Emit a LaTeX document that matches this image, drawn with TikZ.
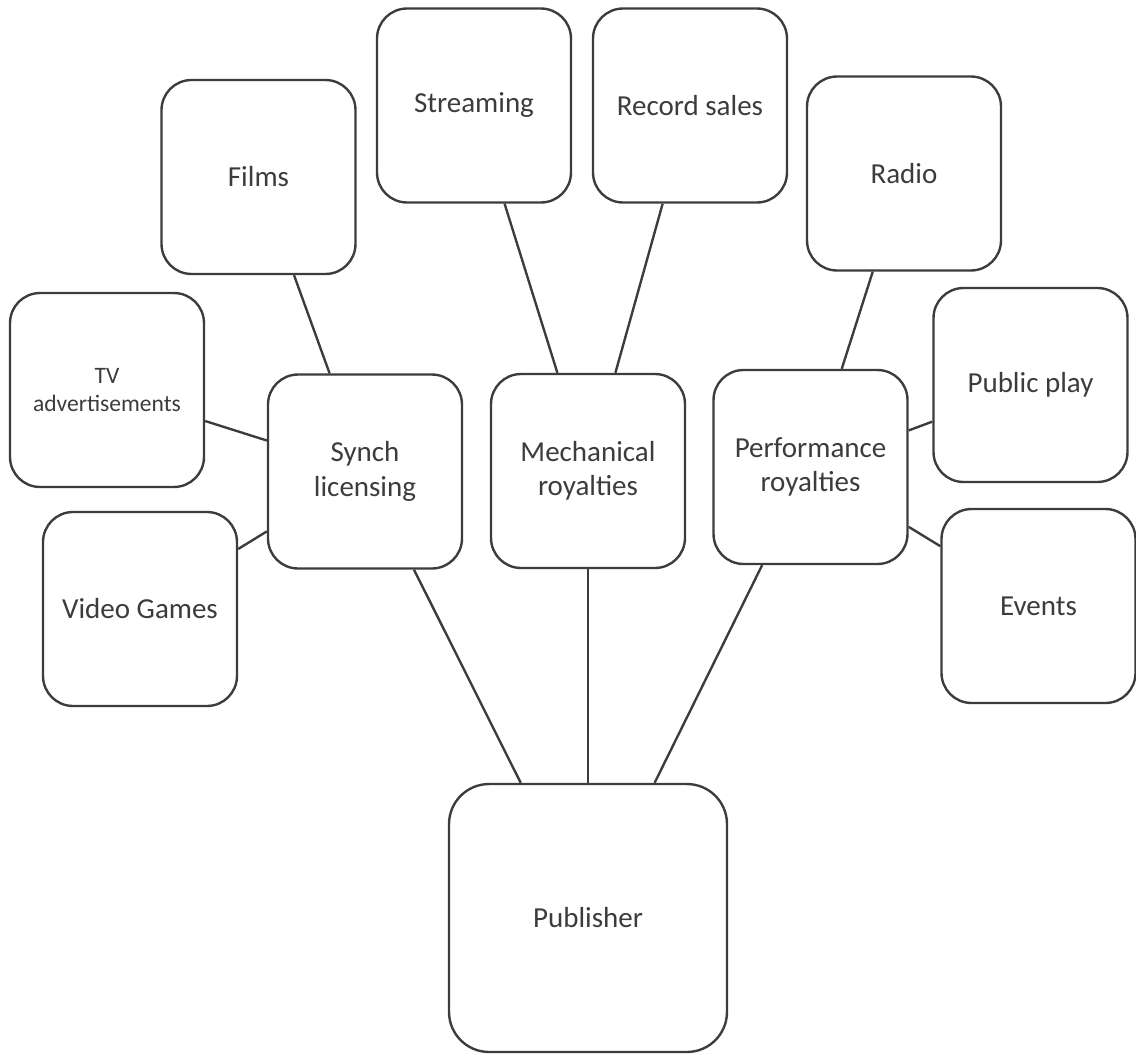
\documentclass[tikz,border=0pt]{standalone}
\usepackage{fontspec}
\setmainfont{Carlito}
\definecolor{ink}{HTML}{3C3C3C}
\begin{document}
\begin{tikzpicture}[x=0.02cm,y=-0.02cm,
  box/.style={draw=ink, line width=1.35pt, rounded corners=0.6cm, fill=white,
    minimum width=3.88cm, minimum height=3.88cm, align=center, text=ink,
    font=\fontsize{16.5}{19.5}\selectfont, inner sep=2pt},
  smallbox/.style={box, font=\fontsize{13.4}{15.5}\selectfont},
  bigbox/.style={box, rounded corners=0.8cm, minimum width=5.56cm, minimum height=5.36cm},
  link/.style={draw=ink, line width=1.35pt}]
\useasboundingbox (0,0) rectangle (1136,1055);
\node[bigbox] (pub) at (588,918) {Publisher};
\node[box] (synch) at (365,471.5) {Synch\\licensing};
\node[box] (mech) at (588,471) {Mechanical\\royalties};
\node[box] (perf) at (810.5,467) {Performance\\royalties};
\node[box] (films) at (258.5,177) {Films};
\node[box] (stream) at (474,105.5) {Streaming};
\node[box] (record) at (690,105.5) {Record sales};
\node[box] (radio) at (904,173.5) {Radio};
\node[smallbox] (tv) at (107,390) {TV\\advertisements};
\node[box] (video) at (140,609) {Video Games};
\node[box] (public) at (1030.5,385) {Public play};
\node[box] (events) at (1038.5,606) {Events};
\draw[link] (films) -- (synch);
\draw[link] (tv) -- (synch);
\draw[link] (video) -- (synch);
\draw[link] (stream) -- (mech);
\draw[link] (record) -- (mech);
\draw[link] (radio) -- (perf);
\draw[link] (public) -- (perf);
\draw[link] (events) -- (perf);
\draw[link] (synch) -- (pub);
\draw[link] (mech) -- (pub);
\draw[link] (perf) -- (pub);
\end{tikzpicture}
\end{document}
